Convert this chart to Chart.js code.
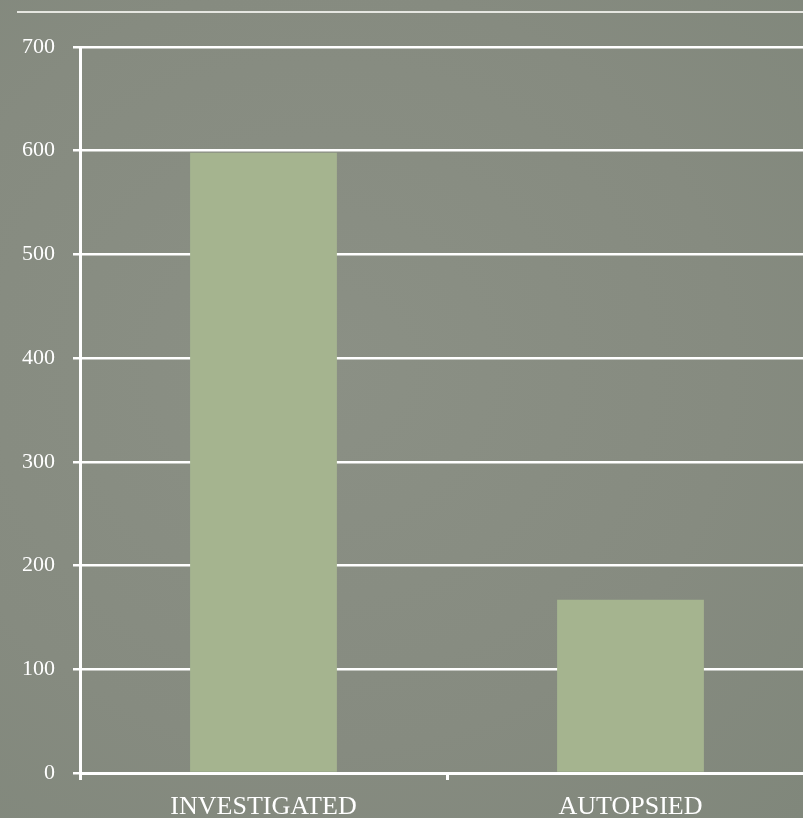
<!DOCTYPE html>
<html>
<head>
<meta charset="utf-8">
<script src="https://cdn.jsdelivr.net/npm/chart.js@4"></script>
<style>
  html, body { margin: 0; padding: 0; overflow: hidden; }
  body {
    width: 803px; height: 818px; position: relative;
    background: radial-gradient(ellipse at 40% 45%, #8b9085 0%, #868b80 60%, #80877b 100%);
  }
  #topline { position: absolute; left: 17px; top: 11px; width: 800px; height: 0; border-top: 2px solid rgba(240,240,235,0.9); }
  #canvas { position: absolute; left: 0; top: 0; }
</style>
</head>
<body>
<div id="topline"></div>
<canvas id="canvas" width="830" height="818"></canvas>
<script>
var CATEGORIES = ['INVESTIGATED', 'AUTOPSIED'];
var COUNTS = [598, 167];
var Y_MAX = 700;
var Y_STEP = 100;

window.onload = function() {
  var ctx = document.getElementById('canvas').getContext('2d');
  window.myBar = new Chart(ctx, {
    type: 'bar',
    data: {
      labels: CATEGORIES,
      datasets: [{
        label: 'Cases',
        backgroundColor: '#a5b48f',
        borderWidth: 0,
        data: COUNTS,
        barPercentage: 0.4,
        categoryPercentage: 1.0
      }]
    },
    options: {
      responsive: false,
      animation: false,
      layout: { padding: { top: 47, right: 16, left: 0, bottom: 0 } },
      plugins: {
        legend: { display: false },
        title: { display: false },
        tooltip: { enabled: false }
      },
      scales: {
        x: {
          afterFit: function(scale) { scale.height = 45; },
          grid: { display: true, drawOnChartArea: false, drawTicks: true, tickLength: 7, color: '#ffffff', lineWidth: 3, offset: true },
          border: { display: true, color: '#ffffff', width: 3 },
          ticks: { color: '#ffffff', padding: 12, font: { family: 'Liberation Serif', size: 26 } }
        },
        y: {
          min: 0,
          max: Y_MAX,
          afterFit: function(scale) { scale.width = 80; },
          grid: { color: '#ffffff', lineWidth: 2.5, tickLength: 7, drawTicks: true },
          border: { display: true, color: '#ffffff', width: 3 },
          ticks: { stepSize: Y_STEP, color: '#ffffff', padding: 18, font: { family: 'Liberation Serif', size: 22 } }
        }
      }
    }
  });
};
</script>
</body>
</html>
